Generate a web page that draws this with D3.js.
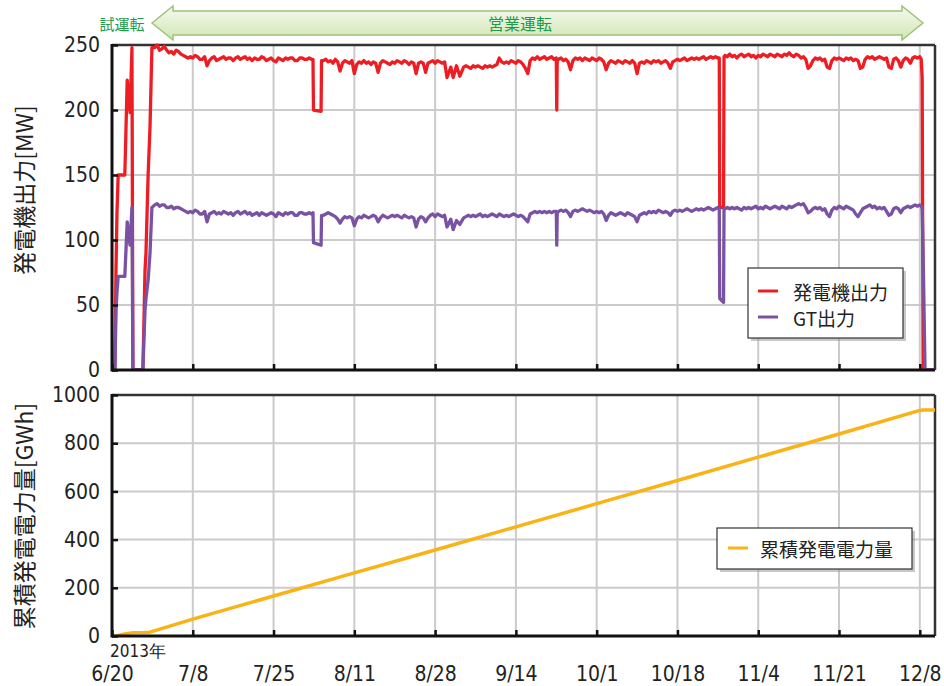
<!DOCTYPE html>
<html><head><meta charset="utf-8">
<script src="https://cdn.jsdelivr.net/npm/d3@7"></script>
<style>
html,body{margin:0;padding:0;background:#fff;}
svg{display:block;}
</style></head>
<body>
<svg id="chart" width="944" height="686"></svg>
<script>
// ---------- DATA ----------
const tickDays = [0,17,34,51,68,85,102,119,136,153,170];
const tickLabels = ["6/20","7/8","7/25","8/11","8/28","9/14","10/1","10/18","11/4","11/21","12/8"];
const powerTicks = [0,50,100,150,200,250];
const energyTicks = [0,200,400,600,800,1000];

// sampling days (days after 6/20)
const powerDays = [
 0,0.6,0.85,1.05,1.3,1.5,2.7,3.2,3.8,4.2,4.4,6.5,6.95,7.15,7.6,8.0,8.4,
 9,9.5,10,10.5,11,11.5,12,12.5,13,13.5,
 14,14.5,15,15.5,16,16.5,17,17.5,18,18.5,
 19,19.5,20,20.5,21,21.5,22,22.5,23,23.5,
 24,24.5,25,25.5,26,26.5,27,27.5,28,28.5,
 29,29.5,30,30.5,31,31.5,32,32.5,33,33.5,
 34,34.5,35,35.5,36,36.5,37,37.5,38,38.5,
 39,39.5,40,40.5,41,41.5,42,
 42.3,42.4,44.0,44.1,
 44.5,45,45.5,46,46.5,47,47.5,48,48.5,49,
 49.5,50,50.5,51,51.5,52,52.5,53,53.5,54,
 54.5,55,55.5,56,56.5,57,57.5,58,58.5,59,
 59.5,60,60.5,61,61.5,62,62.5,63,63.5,64,
 64.5,65,65.5,66,66.5,67,67.5,68,68.5,69,
 69.5,70,
 70.5,71.3,71.8,72.5,73.2,
 74,74.5,75,75.5,76,76.5,77,77.5,78,78.5,
 79,79.5,80,80.5,81,81.5,82,82.5,83,83.5,
 84,84.5,85,85.5,86,86.5,87,87.5,88,88.5,
 89,89.5,90,90.5,91,91.5,92,92.5,93,
 93.5,93.6,93.7,
 94,94.5,95,95.5,96,96.5,97,97.5,98,98.5,
 99,99.5,100,100.5,101,101.5,102,102.5,103,103.5,
 104,104.5,105,105.5,106,106.5,107,107.5,108,108.5,
 109,109.5,110,110.5,111,111.5,112,112.5,113,113.5,
 114,114.5,115,115.5,116,116.5,117,117.5,118,118.5,
 119,119.5,120,120.5,121,121.5,122,122.5,123,123.5,
 124,124.5,125,125.5,126,126.5,127,127.5,
 127.8,127.9,128.7,128.8,
 129,129.5,130,130.5,131,131.5,132,132.5,133,133.5,
 134,134.5,135,135.5,136,136.5,137,137.5,138,138.5,
 139,139.5,140,140.5,141,141.5,142,142.5,143,143.5,
 144,144.5,145,145.5,146,146.5,147,147.5,148,148.5,
 149,149.5,150,150.5,151,151.5,152,152.5,153,153.5,
 154,154.5,155,155.5,156,156.5,157,157.5,158,158.5,
 159,159.5,160,160.5,161,161.5,162,162.5,163,163.5,
 164,164.5,165,165.5,166,166.5,167,167.5,168,168.5,
 169,169.5,170,
 170.3,170.5,170.7,171.1,173.2];

// 発電機出力 [MW]
const genOutput = [
 0,0,79,121,150,150,150,223,198,248,0,0,77,90,150,187,248,
 248,250,246,247,249,246,244,245,243,246,
 245,243,242,241,240,241,240,242,241,239,
 239,241,234,238,240,241,238,239,240,241,
 239,240,240,238,240,241,239,240,241,239,
 240,238,240,239,239,241,240,238,239,240,
 238,237,240,239,238,240,239,240,240,238,
 238,240,240,239,239,240,239,
 239,200,199,238,
 238,239,237,238,236,239,237,230,236,238,
 237,236,238,228,235,237,236,238,236,237,
 235,237,236,229,236,238,237,236,235,237,
 236,238,237,236,238,237,235,237,236,228,
 236,237,236,229,236,237,238,236,238,237,
 236,237,
 225,233,225,234,226,
 233,234,233,232,234,233,234,233,232,234,
 233,234,233,234,235,240,237,236,237,236,
 238,237,236,238,237,235,232,228,238,240,
 239,241,239,240,241,239,240,241,239,
 240,200,239,
 239,240,238,239,237,231,238,240,239,240,
 238,240,239,238,240,239,238,240,239,237,
 231,236,238,237,236,238,237,236,238,237,
 236,238,236,228,236,237,236,238,237,236,
 238,237,238,236,237,238,236,232,237,238,
 239,238,239,240,238,239,240,239,240,239,
 240,241,239,240,241,240,241,240,
 240,125,125,241,
 242,241,243,241,242,240,242,243,241,242,
 243,241,242,240,242,241,243,242,241,243,
 242,241,243,242,241,243,242,244,242,241,
 243,242,240,241,239,232,234,238,240,239,
 240,238,239,233,232,238,240,239,240,239,
 238,240,239,240,238,239,238,232,233,239,
 241,240,241,239,240,241,240,239,240,233,
 232,239,240,238,233,238,240,239,236,240,
 241,240,241,
 239,225,0,0,0];

// GT出力 [MW]
const gtOutput = [
 0,0,46,60,72,72,72,114,96,125,0,0,46,55,69,90,125,
 127,128,126,127,127,125,125,126,124,125,
 125,124,123,122,121,122,121,123,122,120,
 120,122,114,120,121,122,120,121,120,122,
 121,120,121,119,121,122,120,121,122,120,
 121,119,120,121,119,121,120,119,120,121,
 120,118,121,120,119,121,120,121,121,119,
 119,121,121,120,120,121,120,
 121,98,96,119,
 119,120,121,120,119,118,116,113,116,118,
 117,118,117,111,116,118,117,119,118,117,
 118,119,118,114,117,119,118,117,118,119,
 118,119,118,117,119,118,117,118,117,110,
 116,118,117,114,117,119,120,118,120,119,
 118,119,
 110,116,108,115,112,
 117,118,119,118,119,118,119,120,118,119,
 118,119,120,119,118,120,119,118,119,118,
 119,120,119,118,119,118,116,114,120,121,
 122,121,122,121,122,121,122,121,122,
 122,96,121,
 122,123,122,123,121,118,122,123,122,123,
 124,123,122,123,122,121,122,121,122,120,
 115,119,121,120,119,120,121,120,119,121,
 120,119,118,114,119,120,121,120,122,121,
 122,121,123,122,121,122,121,119,122,123,
 122,123,122,123,124,123,122,123,124,123,
 124,123,124,125,124,123,124,125,
 124,55,52,124,
 124,125,124,125,124,125,124,123,125,124,
 125,124,125,126,124,125,124,126,125,124,
 125,126,125,124,126,125,124,126,125,126,
 127,128,127,128,125,121,122,124,125,124,
 125,123,124,120,118,123,125,124,126,125,
 124,126,125,124,123,120,118,121,124,125,
 126,127,125,126,124,125,124,125,122,119,
 120,124,125,124,121,124,125,126,125,126,
 127,126,127,
 126,124,90,0,0];

// 累積発電電力量 [GWh]
const energyDays = [0,0.6,1.5,2.7,4.4,6.9,8.0,17,34,51,68,85,102,119,136,153,170,170.6,173.2];
const cumEnergy  = [0,0,3,8,14,15,16,70,166,262,357,453,549,645,742,838,936,938,938];

const seriesNames = ["発電機出力","GT出力"];
const energyName = "累積発電電力量";

// ---------- LAYOUT ----------
const svg = d3.select("#chart");
const L = 112, R = 935;
const top1 = 45, bot1 = 370;
const top2 = 395, bot2 = 636;
const numFont = "'DejaVu Sans Condensed','Liberation Sans Narrow',sans-serif";
const jpFont = "'Noto Sans CJK JP',sans-serif";
const colRed = "#ee1d24", colPur = "#7a52a3", colOr = "#f9b316", green = "#1f9a4c";

const x = d3.scaleLinear().domain([0,173.2]).range([L,R]);
const y1 = d3.scaleLinear().domain([0,250]).range([bot1,top1]);
const y2 = d3.scaleLinear().domain([0,1000]).range([bot2,top2]);

const defs = svg.append("defs");
const grad = defs.append("linearGradient").attr("id","ag").attr("x1",0).attr("y1",0).attr("x2",0).attr("y2",1);
grad.append("stop").attr("offset","0%").attr("stop-color","#f5faee");
grad.append("stop").attr("offset","100%").attr("stop-color","#d2e6b4");
defs.append("clipPath").attr("id","c1").append("rect").attr("x",L).attr("y",top1-4).attr("width",R-L).attr("height",bot1-top1+4);
defs.append("clipPath").attr("id","c2").append("rect").attr("x",L).attr("y",top2).attr("width",R-L).attr("height",bot2-top2);

// ---------- BANNER ----------
const ay = 23;
const arrowPts = [[152,ay],[173,6],[173,11],[902,11],[902,6],[923,ay],[902,40],[902,35],[173,35],[173,40]];
svg.append("polygon").attr("points",arrowPts.map(p=>p.join(",")).join(" "))
  .attr("fill","url(#ag)").attr("stroke","#9dc279").attr("stroke-width",1.5);
svg.append("text").attr("x",122).attr("y",ay).attr("text-anchor","middle").attr("dominant-baseline","central")
  .attr("font-family",jpFont).attr("font-size",15).attr("fill",green).text("試運転");
svg.append("text").attr("x",520).attr("y",ay).attr("text-anchor","middle").attr("dominant-baseline","central")
  .attr("font-family",jpFont).attr("font-size",16).attr("fill",green).text("営業運転");

// ---------- PANEL helpers ----------
function panel(yS, top, bot, yTicks) {
  const g = svg.append("g");
  g.selectAll(".hg").data(yTicks.filter(v=>v>yS.domain()[0] && v<yS.domain()[1])).join("line")
    .attr("x1",L).attr("x2",R).attr("y1",d=>yS(d)).attr("y2",d=>yS(d))
    .attr("stroke","#cbcbcb").attr("stroke-width",2);
  g.selectAll(".vg").data(tickDays.slice(1)).join("line")
    .attr("x1",d=>x(d)).attr("x2",d=>x(d)).attr("y1",top).attr("y2",bot)
    .attr("stroke","#cbcbcb").attr("stroke-width",2);
  g.append("line").attr("x1",L).attr("x2",R).attr("y1",top).attr("y2",top).attr("stroke","#333").attr("stroke-width",2.5);
  g.append("line").attr("x1",R).attr("x2",R).attr("y1",top).attr("y2",bot).attr("stroke","#333").attr("stroke-width",2.5);
  return g;
}
function axes(yS, bot, yTicks, showX) {
  const ya = svg.append("g").attr("transform",`translate(${L},0)`)
    .call(d3.axisLeft(yS).tickValues(yTicks).tickSize(-6).tickPadding(12).tickFormat(d3.format("d")));
  ya.select(".domain").remove();
  ya.selectAll(".tick line").attr("stroke","#111").attr("stroke-width",2.5);
  ya.selectAll("text").attr("font-family",numFont).attr("font-size",21).attr("fill","#222");
  const xa = svg.append("g").attr("transform",`translate(0,${bot})`)
    .call(d3.axisBottom(x).tickValues(tickDays).tickSize(-6).tickPadding(0).tickFormat((d,i)=>showX?tickLabels[i]:""));
  xa.select(".domain").remove();
  xa.selectAll(".tick line").attr("stroke","#111").attr("stroke-width",2.5);
  xa.selectAll("text").attr("font-family",numFont).attr("font-size",21).attr("fill","#222").attr("dy",0).attr("y",45);
  svg.append("line").attr("x1",L).attr("x2",R).attr("y1",bot).attr("y2",bot).attr("stroke","#111").attr("stroke-width",3);
  svg.append("line").attr("x1",L).attr("x2",L).attr("y1",yS.range()[1]-1).attr("y2",bot+1.5).attr("stroke","#111").attr("stroke-width",3);
}

// ---------- TOP PANEL ----------
panel(y1, top1, bot1, powerTicks);
const line1 = d3.line().x((d,i)=>x(powerDays[i])).y(d=>y1(d));
const lg = svg.append("g").attr("clip-path","url(#c1)");
lg.append("path").attr("d",line1(genOutput)).attr("fill","none").attr("stroke",colRed).attr("stroke-width",3.3).attr("stroke-linejoin","round");
lg.append("path").attr("d",line1(gtOutput)).attr("fill","none").attr("stroke",colPur).attr("stroke-width",3.3).attr("stroke-linejoin","round");
axes(y1, bot1, powerTicks, false);

// ---------- BOTTOM PANEL ----------
panel(y2, top2, bot2, energyTicks);
const line2 = d3.line().x((d,i)=>x(energyDays[i])).y(d=>y2(d));
svg.append("g").attr("clip-path","url(#c2)").append("path").attr("d",line2(cumEnergy))
  .attr("fill","none").attr("stroke",colOr).attr("stroke-width",3.5).attr("stroke-linejoin","round");
axes(y2, bot2, energyTicks, true);

svg.append("text").attr("x",110).attr("y",657).attr("font-family",numFont).attr("font-size",17).attr("fill","#222").text("2013年");

// ---------- AXIS TITLES ----------
svg.append("text").attr("transform","translate(33,190) rotate(-90)").attr("text-anchor","middle")
  .attr("font-family",jpFont).attr("font-size",23).attr("fill","#222").text("発電機出力[MW]");
svg.append("text").attr("transform","translate(33,516) rotate(-90)").attr("text-anchor","middle")
  .attr("font-family",jpFont).attr("font-size",23).attr("fill","#222").text("累積発電電力量[GWh]");

// ---------- LEGENDS ----------
function legendBox(x0,y0,w,h){
  svg.append("rect").attr("x",x0+3).attr("y",y0+3).attr("width",w).attr("height",h).attr("fill","#9a9a9a").attr("opacity",0.55);
  svg.append("rect").attr("x",x0).attr("y",y0).attr("width",w).attr("height",h).attr("fill","#fff").attr("stroke","#333").attr("stroke-width",1.2);
}
legendBox(748,268,155,70);
[[colRed,seriesNames[0],291],[colPur,seriesNames[1],317]].forEach(([c,t,yy])=>{
  svg.append("line").attr("x1",758).attr("x2",778).attr("y1",yy).attr("y2",yy).attr("stroke",c).attr("stroke-width",3);
  svg.append("text").attr("x",793).attr("y",yy).attr("dominant-baseline","central").attr("font-family",jpFont).attr("font-size",19).attr("fill","#222").text(t);
});
legendBox(717,528,195,41);
svg.append("line").attr("x1",728).attr("x2",748).attr("y1",548).attr("y2",548).attr("stroke",colOr).attr("stroke-width",3);
svg.append("text").attr("x",760).attr("y",548).attr("dominant-baseline","central").attr("font-family",jpFont).attr("font-size",19).attr("fill","#222").text(energyName);
</script>
</body></html>
